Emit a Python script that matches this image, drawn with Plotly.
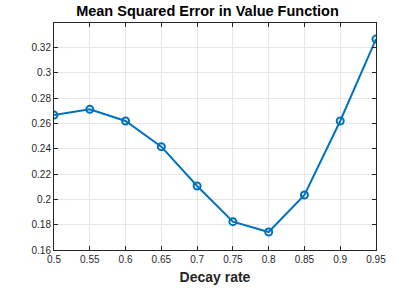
import plotly.graph_objects as go

decay_rate = [0.5, 0.55, 0.6, 0.65, 0.7, 0.75, 0.8, 0.85, 0.9, 0.95]
mse = [0.2667, 0.2712, 0.2620, 0.2417, 0.2106, 0.1824, 0.1742, 0.2035, 0.2620, 0.3268]
x_ticks = [0.5, 0.55, 0.6, 0.65, 0.7, 0.75, 0.8, 0.85, 0.9, 0.95]
x_tick_labels = ["0.5", "0.55", "0.6", "0.65", "0.7", "0.75", "0.8", "0.85", "0.9", "0.95"]
y_ticks = [0.16, 0.18, 0.2, 0.22, 0.24, 0.26, 0.28, 0.3, 0.32]
y_tick_labels = ["0.16", "0.18", "0.2", "0.22", "0.24", "0.26", "0.28", "0.3", "0.32"]

fig = go.Figure()
fig.add_trace(go.Scatter(
    x=decay_rate, y=mse, mode="lines+markers",
    line=dict(color="#0072BD", width=2),
    marker=dict(symbol="circle-open", size=7, color="#0072BD", line=dict(width=2)),
    showlegend=False,
))

axis_common = dict(
    showline=True, linecolor="#262626", linewidth=1, mirror="allticks",
    ticks="inside", ticklen=4, tickcolor="#262626",
    showgrid=True, gridcolor="#e6e6e6", gridwidth=1, zeroline=False,
    tickfont=dict(family="Liberation Sans, Arial", size=10, color="#262626"),
)

fig.update_xaxes(range=[0.5, 0.95], tickvals=x_ticks, ticktext=x_tick_labels,
                 title=dict(text="<b>Decay rate</b>", font=dict(family="Liberation Sans, Arial", size=14, color="#262626"), standoff=8),
                 **axis_common)
fig.update_yaxes(range=[0.16, 0.3395], tickvals=y_ticks, ticktext=y_tick_labels, **axis_common)

fig.update_layout(
    width=415, height=288,
    margin=dict(l=54, r=39, t=23, b=38, autoexpand=False),
    paper_bgcolor="white", plot_bgcolor="white",
    title=dict(text="<b>Mean Squared Error in Value Function</b>", x=0.5, xanchor="center",
               y=1 - 10.5 / 288, yanchor="middle",
               font=dict(family="Liberation Sans, Arial", size=14.5, color="black")),
)

fig.write_html("out.html", config={"displayModeBar": False},
               post_script="document.body.style.margin='0px';")
